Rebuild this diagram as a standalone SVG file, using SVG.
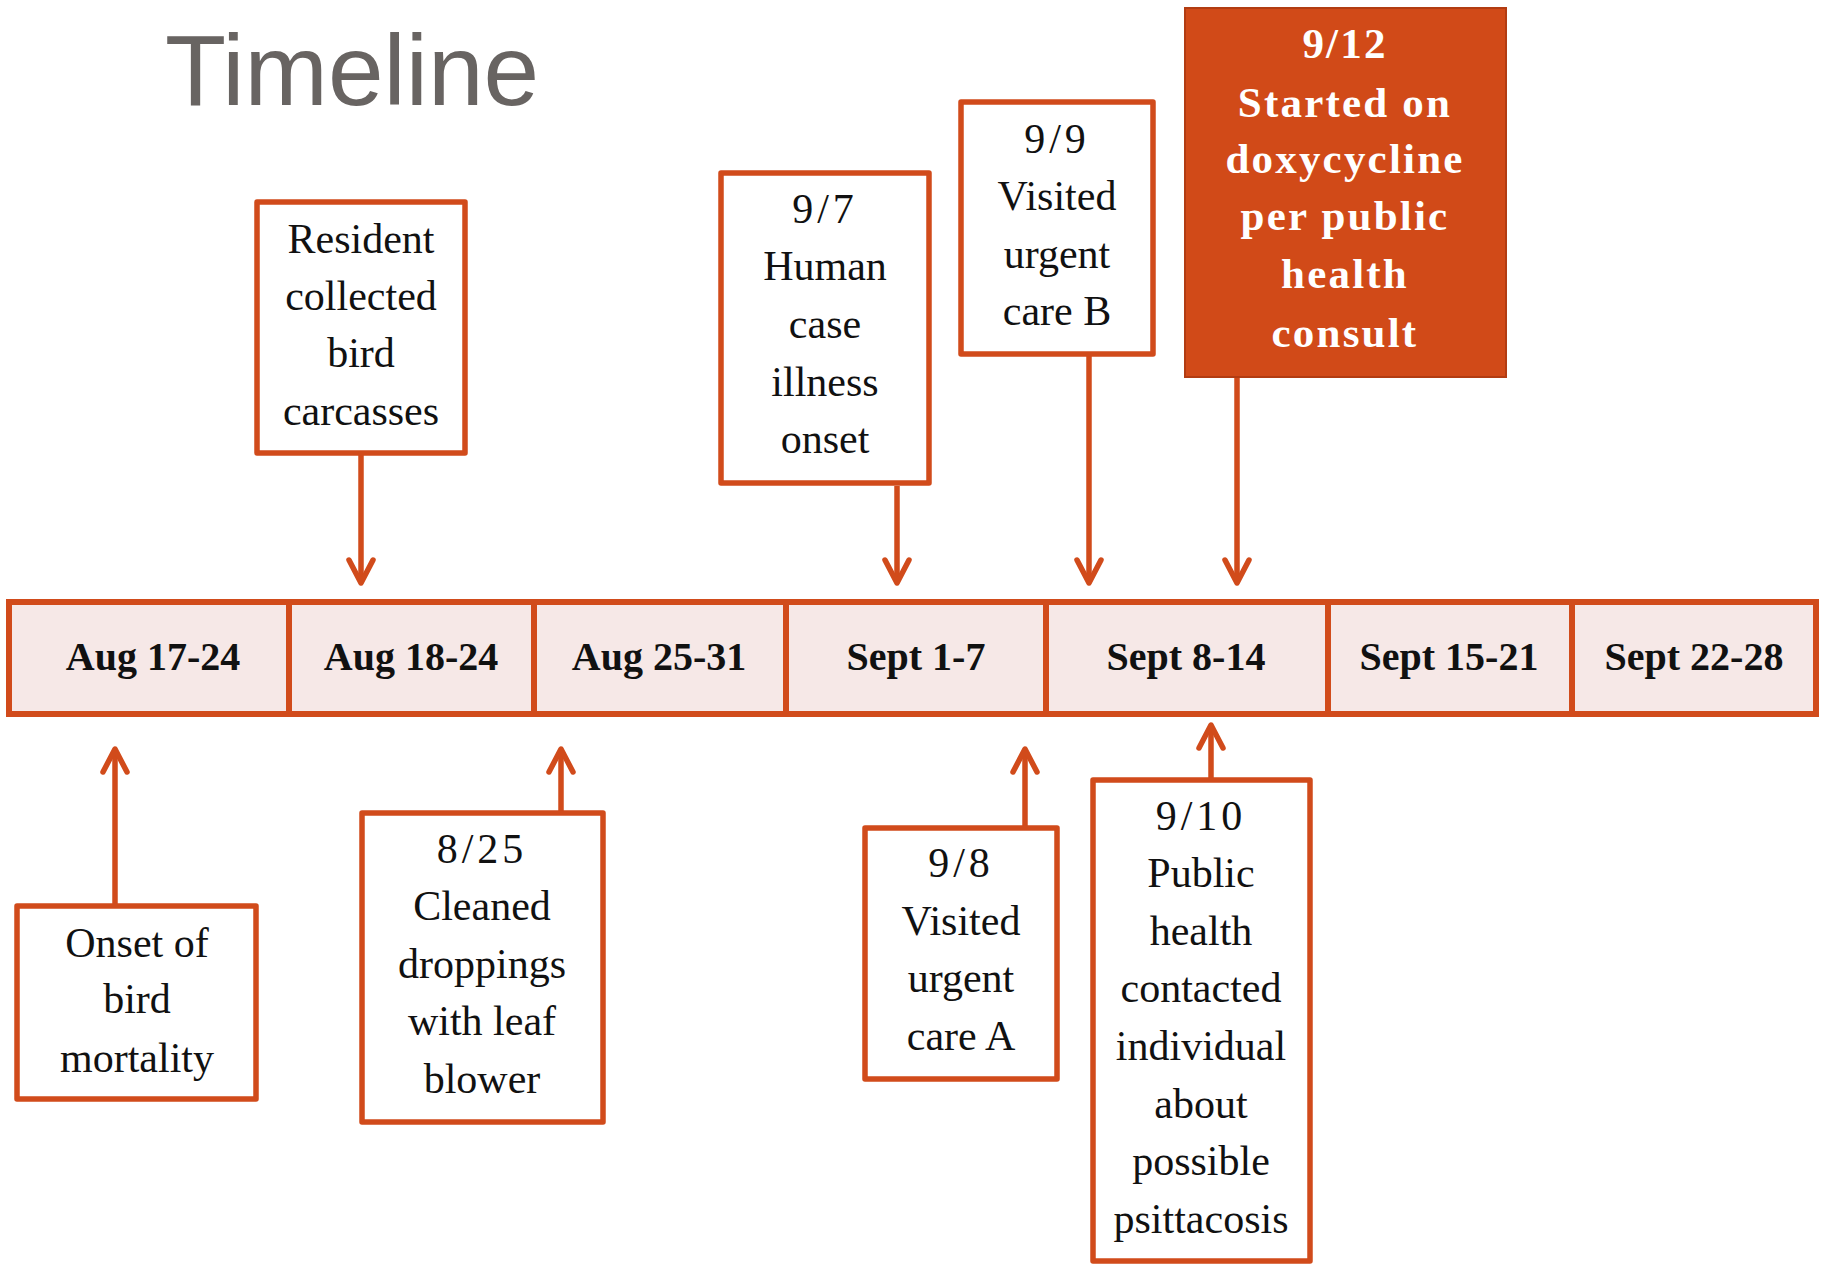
<svg xmlns="http://www.w3.org/2000/svg" width="1825" height="1264" viewBox="0 0 1825 1264">
<style>
.box{fill:#ffffff;stroke:#D14B1B;stroke-width:5.5;stroke-linejoin:round}
.hi{fill:#D14A18;stroke:#B23C12;stroke-width:2}
.cell{fill:#F6E8E7;stroke:#D14B1B;stroke-width:6}
.t{font-family:"Liberation Serif","Times New Roman",serif;font-size:42px;fill:#111111;text-anchor:middle}
.w{font-family:"Liberation Serif","Times New Roman",serif;font-size:43px;font-weight:bold;fill:#ffffff;text-anchor:middle;letter-spacing:2.2px}
.lbl{font-family:"Liberation Serif","Times New Roman",serif;font-size:40px;font-weight:bold;fill:#111111;text-anchor:middle}
.conn{stroke:#D14B1B;stroke-width:5.5;fill:none;marker-end:url(#arr)}
</style>
<defs>
<marker id="arr" viewBox="-28 -16 32 32" markerWidth="32" markerHeight="32" refX="0" refY="0" markerUnits="userSpaceOnUse" orient="auto" overflow="visible">
<path d="M -23 -12 L 0 0 L -23 12" fill="none" stroke="#D14B1B" stroke-width="5.5" stroke-linecap="round" stroke-linejoin="round"/>
</marker>
</defs>
<rect width="1825" height="1264" fill="#ffffff"/>
<text x="165" y="105" font-family="'Liberation Sans',Arial,sans-serif" font-size="100" fill="#686462">Timeline</text>

<g id="timeline">
<rect class="cell" x="9" y="602" width="280" height="112"/>
<rect class="cell" x="289" y="602" width="245" height="112"/>
<rect class="cell" x="534" y="602" width="252" height="112"/>
<rect class="cell" x="786" y="602" width="260" height="112"/>
<rect class="cell" x="1046" y="602" width="282" height="112"/>
<rect class="cell" x="1328" y="602" width="244" height="112"/>
<rect class="cell" x="1572" y="602" width="244" height="112"/>
<text class="lbl" x="153" y="670">Aug 17-24</text>
<text class="lbl" x="411" y="670">Aug 18-24</text>
<text class="lbl" x="659" y="670">Aug 25-31</text>
<text class="lbl" x="916" y="670">Sept 1-7</text>
<text class="lbl" x="1186" y="670">Sept 8-14</text>
<text class="lbl" x="1449" y="670">Sept 15-21</text>
<text class="lbl" x="1694" y="670">Sept 22-28</text>
</g>

<g id="connectors">
<path class="conn" d="M 361 455 L 361 583"/>
<path class="conn" d="M 897 486 L 897 583"/>
<path class="conn" d="M 1089 356 L 1089 583"/>
<path class="conn" d="M 1237 378 L 1237 583"/>
<path class="conn" d="M 115 904 L 115 749"/>
<path class="conn" d="M 561 811 L 561 749"/>
<path class="conn" d="M 1025 826 L 1025 749"/>
<path class="conn" d="M 1211 778 L 1211 725"/>
</g>

<g id="resident">
<rect class="box" x="257" y="202" width="208" height="251"/>
<text class="t" x="361" y="253">Resident</text>
<text class="t" x="361" y="310">collected</text>
<text class="t" x="361" y="367">bird</text>
<text class="t" x="361" y="425">carcasses</text>
</g>

<g id="human-onset">
<rect class="box" x="721" y="173" width="208" height="310"/>
<text class="t" x="825" y="223" letter-spacing="4">9/7</text>
<text class="t" x="825" y="280">Human</text>
<text class="t" x="825" y="338">case</text>
<text class="t" x="825" y="396">illness</text>
<text class="t" x="825" y="453">onset</text>
</g>

<g id="urgent-b">
<rect class="box" x="961" y="102" width="192" height="252"/>
<text class="t" x="1057" y="153" letter-spacing="4">9/9</text>
<text class="t" x="1057" y="210">Visited</text>
<text class="t" x="1057" y="268">urgent</text>
<text class="t" x="1057" y="325">care B</text>
</g>

<g id="doxycycline">
<rect class="hi" x="1185" y="8" width="321" height="369"/>
<text class="w" x="1345" y="58">9/12</text>
<text class="w" x="1345" y="117">Started on</text>
<text class="w" x="1345" y="173">doxycycline</text>
<text class="w" x="1345" y="230">per public</text>
<text class="w" x="1345" y="288">health</text>
<text class="w" x="1345" y="347">consult</text>
</g>

<g id="bird-mortality">
<rect class="box" x="17" y="906" width="239" height="193"/>
<text class="t" x="137" y="957">Onset of</text>
<text class="t" x="137" y="1013">bird</text>
<text class="t" x="137" y="1072">mortality</text>
</g>

<g id="leaf-blower">
<rect class="box" x="362" y="813" width="241" height="309"/>
<text class="t" x="482" y="863" letter-spacing="4">8/25</text>
<text class="t" x="482" y="920">Cleaned</text>
<text class="t" x="482" y="978">droppings</text>
<text class="t" x="482" y="1035">with leaf</text>
<text class="t" x="482" y="1093">blower</text>
</g>

<g id="urgent-a">
<rect class="box" x="865" y="828" width="192" height="251"/>
<text class="t" x="961" y="877" letter-spacing="4">9/8</text>
<text class="t" x="961" y="935">Visited</text>
<text class="t" x="961" y="992">urgent</text>
<text class="t" x="961" y="1050">care A</text>
</g>

<g id="public-health">
<rect class="box" x="1093" y="780" width="217" height="481"/>
<text class="t" x="1201" y="830" letter-spacing="4">9/10</text>
<text class="t" x="1201" y="887">Public</text>
<text class="t" x="1201" y="945">health</text>
<text class="t" x="1201" y="1002">contacted</text>
<text class="t" x="1201" y="1060">individual</text>
<text class="t" x="1201" y="1118">about</text>
<text class="t" x="1201" y="1175">possible</text>
<text class="t" x="1201" y="1233">psittacosis</text>
</g>
</svg>
